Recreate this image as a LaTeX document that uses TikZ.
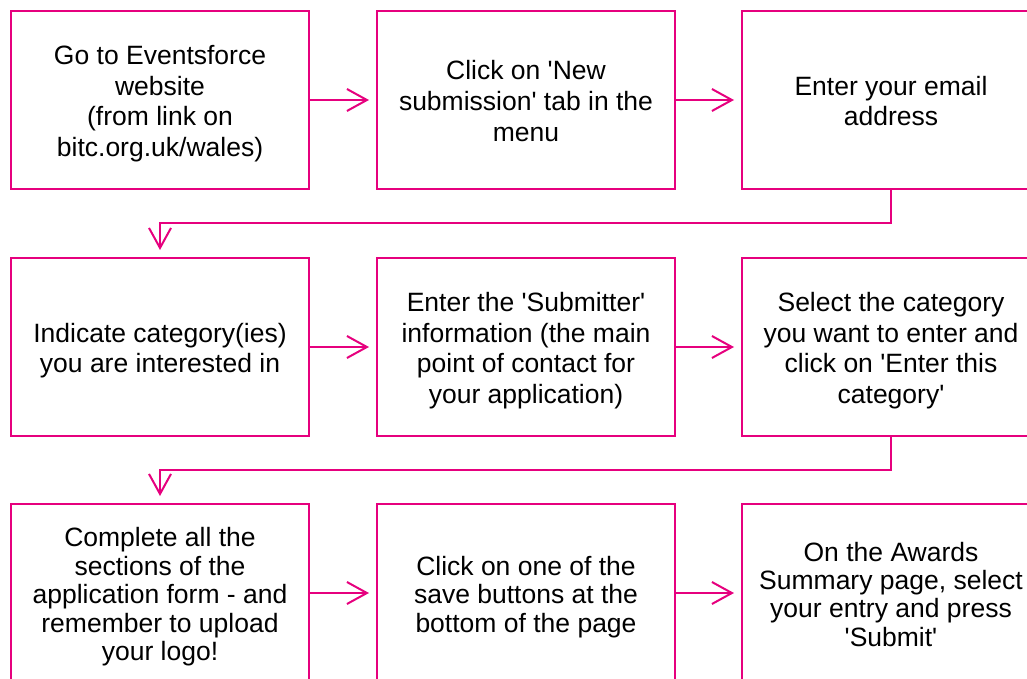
\documentclass[tikz,border=0pt]{standalone}
\usepackage{fontspec}
\setmainfont{Liberation Sans}
\usetikzlibrary{arrows.meta}
\definecolor{bitcpink}{RGB}{230,0,126}
\newcommand{\sq}{\textquotesingle}
\tikzset{
  stepbox/.style={draw=bitcpink, line width=2pt, minimum width=298pt, minimum height=178pt,
    inner sep=0pt, align=center, font=\fontsize{26.5}{30.7}\selectfont,
    execute at begin node={\vbox\bgroup\kern8pt\hbox\bgroup},
    execute at end node={\rule[-6pt]{0pt}{6pt}\egroup\egroup}},
  tightbox/.style={stepbox, font=\fontsize{26.5}{28.4}\selectfont},
  flow/.style={draw=bitcpink, line width=2pt, -{Straight Barb[length=20pt,width=22pt]}, shorten >=7pt}
}

\begin{document}
\begin{tikzpicture}[x=1pt, y=-1pt]
            \useasboundingbox (0, 0) rectangle (1027, 679);
            \clip (0, 0) rectangle (1027, 679);
            % first row
            \node[stepbox] (website) at (160, 100) {Go to Eventsforce\\website\\(from link on\\bitc.org.uk/wales)};
            \node[stepbox] (newsub) at (526, 100) {Click on \sq New\\submission\sq{} tab in the\\menu};
            \node[stepbox] (email) at (891, 100) {Enter your email\\address};
            % second row
            \node[stepbox] (interest) at (160, 347) {Indicate category(ies)\\you are interested in};
            \node[stepbox] (submitter) at (526, 347) {Enter the \sq Submitter\sq\\information (the main\\point of contact for\\your application)};
            \node[stepbox] (category) at (891, 347) {Select the category\\you want to enter and\\click on \sq Enter this\\category\sq};
            % third row
            \node[tightbox] (complete) at (160, 593) {Complete all the\\sections of the\\application form - and\\remember to upload\\your logo!};
            \node[tightbox] (save) at (526, 593) {Click on one of the\\save buttons at the\\bottom of the page};
            \node[tightbox] (summary) at (891, 593) {On the Awards\\Summary page, select\\your entry and press\\\sq Submit\sq};

            \coordinate (turnA) at (891, 223);
            \coordinate (turnB) at (891, 470);

            \draw[flow] (website) -- (newsub);
            \draw[flow] (newsub) -- (email);
            \draw[flow] (email.south) -- (turnA) -| (interest.north);
            \draw[flow] (interest) -- (submitter);
            \draw[flow] (submitter) -- (category);
            \draw[flow] (category.south) -- (turnB) -| (complete.north);
            \draw[flow] (complete) -- (save);
            \draw[flow] (save) -- (summary);
\end{tikzpicture}
\end{document}
